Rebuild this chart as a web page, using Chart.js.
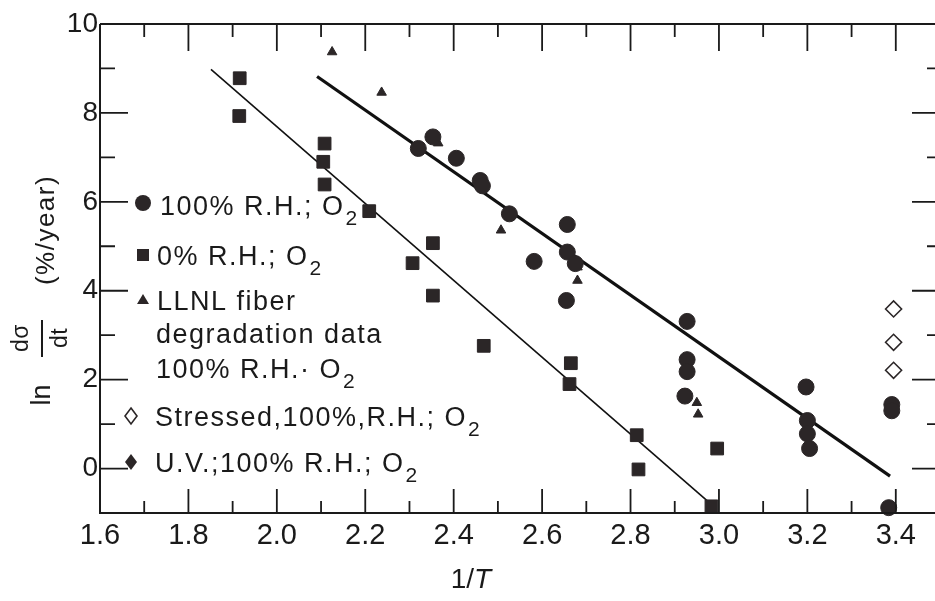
<!DOCTYPE html>
<html>
<head>
<meta charset="utf-8">
<script src="https://cdn.jsdelivr.net/npm/chart.js@4/dist/chart.umd.min.js"></script>
<style>
  html, body { margin: 0; padding: 0; background: #fff; overflow: hidden; }
  #wrap { width: 950px; height: 601px; }
</style>
</head>
<body>
<div id="wrap"><canvas id="chart" width="950" height="601"></canvas></div>
<script>
// 100% R.H.; O2
const wetX = [2.32, 2.353, 2.406, 2.46, 2.465, 2.526, 2.582, 2.657, 2.657, 2.675, 2.655,
              2.928, 2.928, 2.928, 2.923, 3.197, 3.20, 3.20, 3.205, 3.391, 3.391, 3.384];
const wetY = [7.20, 7.46, 6.98, 6.48, 6.36, 5.73, 4.66, 5.49, 4.87, 4.61, 3.78,
              3.31, 2.45, 2.18, 1.63, 1.835, 1.08, 0.78, 0.45, 1.44, 1.30, -0.88];
// 0% R.H.; O2
const dryX = [1.916, 1.915, 2.108, 2.105, 2.108, 2.209, 2.307, 2.353, 2.353, 2.468,
              2.665, 2.662, 2.814, 2.818, 2.996, 2.983];
const dryY = [8.78, 7.93, 7.31, 6.90, 6.39, 5.79, 4.62, 5.07, 3.89, 2.76,
              2.37, 1.90, 0.75, -0.02, 0.45, -0.85];
// LLNL fiber degradation data
const llnlX = [2.125, 2.237, 2.365, 2.507, 2.68, 2.68, 2.95, 2.953];
const llnlY = [9.37, 8.46, 7.32, 5.36, 4.53, 4.23, 1.48, 1.22];
// Stressed, 100% R.H.; O2
const stressX = [3.395, 3.395, 3.395];
const stressY = [3.59, 2.84, 2.21];
// U.V.; 100% R.H.; O2 (legend only)
const uvX = [];
const uvY = [];
// fitted lines
const wetFitX = [2.091, 3.387];
const wetFitY = [8.82, -0.17];
const dryFitX = [1.851, 2.975];
const dryFitY = [8.98, -0.74];

const xTicks = [1.6, 1.8, 2.0, 2.2, 2.4, 2.6, 2.8, 3.0, 3.2, 3.4];
const yTicks = [0, 2, 4, 6, 8, 10];

const legendRows = [
  { marker: 'circle', text: '100% R.H.; O', sub: '2' },
  { marker: 'rect', text: '0% R.H.; O', sub: '2' },
  { marker: 'triangle', text: 'LLNL fiber', sub: '' },
  { marker: '', text: 'degradation data', sub: '' },
  { marker: '', text: '100% R.H.\u00b7 O', sub: '2' },
  { marker: 'openDiamond', text: 'Stressed,100%,R.H.; O', sub: '2' },
  { marker: 'diamond', text: 'U.V.;100% R.H.; O', sub: '2' }
];

const ink = '#2b2627';
const font = '"Liberation Sans", Arial, sans-serif';

function pts(xs, ys) {
  return xs.map((x, i) => ({ x: x, y: ys[i] }));
}

const framePlugin = {
  id: 'frame',
  afterDraw(chart) {
    const ctx = chart.ctx;
    const a = chart.chartArea;
    const xs = chart.scales.x, ys = chart.scales.y;
    ctx.save();
    ctx.strokeStyle = '#1a1a1a';
    ctx.lineWidth = 2;
    ctx.beginPath();
    ctx.moveTo(a.left, a.top); ctx.lineTo(a.right, a.top);
    ctx.moveTo(a.left, a.top); ctx.lineTo(a.left, a.bottom);
    ctx.lineTo(a.right, a.bottom);
    ctx.lineTo(a.right, a.top);
    ctx.stroke();
    ctx.lineWidth = 1.8;
    ctx.beginPath();
    for (let i = 17; i <= 35; i++) {
      const px = xs.getPixelForValue(i / 10);
      const major = i % 2 === 0;
      ctx.moveTo(px, a.bottom); ctx.lineTo(px, a.bottom - (major ? 24 : 12));
      ctx.moveTo(px, a.top); ctx.lineTo(px, a.top + (major ? 27 : 13));
    }
    for (let v = 0; v <= 9; v++) {
      const py = ys.getPixelForValue(v);
      const major = v % 2 === 0;
      ctx.moveTo(a.left, py); ctx.lineTo(a.left + (major ? 28 : 15), py);
      ctx.moveTo(a.right, py); ctx.lineTo(a.right - (major ? 28 : 13), py);
    }
    ctx.stroke();

    // legend
    ctx.fillStyle = '#1a1a1a';
    const rowY = [215, 265, 310, 343, 378, 426, 472];
    const rowX = [160, 157, 157, 156, 156, 155, 155];
    legendRows.forEach((r, i) => {
      const by = rowY[i];
      ctx.font = '27px ' + font;
      ctx.letterSpacing = '1.5px';
      ctx.textAlign = 'left';
      ctx.textBaseline = 'alphabetic';
      ctx.fillText(r.text, rowX[i], by);
      const w = ctx.measureText(r.text).width;
      if (r.sub) {
        ctx.font = '21px ' + font;
        ctx.fillText(r.sub, rowX[i] + w + 1, by + 10);
      }
      ctx.letterSpacing = '0px';
      drawMarker(ctx, r.marker, r.marker === 'openDiamond' || r.marker === 'diamond' ? 131 : 143, by - 10);
    });

    // y title
    ctx.fillStyle = '#1a1a1a';
    rotText(ctx, 'ln', 50, 395, '27px ' + font, '0px');
    rotText(ctx, 'd\u03c3', 28, 338, '23px ' + font, '0.5px');
    rotText(ctx, 'dt', 67, 338, '23px ' + font, '0.5px');
    ctx.lineWidth = 2;
    ctx.beginPath();
    ctx.moveTo(42, 320); ctx.lineTo(42, 357);
    ctx.stroke();
    rotText(ctx, '(%/year)', 54, 230, '26px ' + font, '1.5px');

    // x title
    ctx.textBaseline = 'alphabetic';
    ctx.textAlign = 'left';
    ctx.font = '28px ' + font;
    const w1 = ctx.measureText('1/').width;
    ctx.font = 'italic 28px ' + font;
    const w2 = ctx.measureText('T').width;
    const x0 = 471 - (w1 + w2) / 2;
    ctx.font = '28px ' + font;
    ctx.fillText('1/', x0, 588);
    ctx.font = 'italic 28px ' + font;
    ctx.fillText('T', x0 + w1, 588);
    ctx.restore();
  }
};

function rotText(ctx, t, x, y, f, sp) {
  ctx.save();
  ctx.translate(x, y);
  ctx.rotate(-Math.PI / 2);
  ctx.font = f;
  ctx.letterSpacing = sp;
  ctx.textAlign = 'center';
  ctx.textBaseline = 'alphabetic';
  ctx.fillText(t, 0, 0);
  ctx.restore();
}

function drawMarker(ctx, m, x, y) {
  ctx.save();
  ctx.fillStyle = ink;
  ctx.strokeStyle = ink;
  ctx.lineWidth = 1.6;
  ctx.beginPath();
  if (m === 'circle') {
    ctx.arc(x, y - 2, 8, 0, Math.PI * 2);
    ctx.fill();
  } else if (m === 'rect') {
    ctx.rect(x - 6, y - 6, 12, 12);
    ctx.fill();
  } else if (m === 'triangle') {
    ctx.moveTo(x, y - 6); ctx.lineTo(x + 6, y + 4); ctx.lineTo(x - 6, y + 4);
    ctx.closePath();
    ctx.fill();
  } else if (m === 'openDiamond' || m === 'diamond') {
    ctx.moveTo(x, y - 8); ctx.lineTo(x + 6, y); ctx.lineTo(x, y + 8); ctx.lineTo(x - 6, y);
    ctx.closePath();
    if (m === 'diamond') ctx.fill();
    else { ctx.fillStyle = '#fff'; ctx.fill(); ctx.stroke(); }
  }
  ctx.restore();
}

const ctx = document.getElementById('chart').getContext('2d');
const chart = new Chart(ctx, {
  type: 'scatter',
  data: {
    datasets: [{
      label: '100% R.H.; O2',
      data: pts(wetX, wetY),
      pointStyle: 'circle',
      pointRadius: 8,
      backgroundColor: ink,
      borderColor: ink,
      clip: false
    }, {
      label: '0% R.H.; O2',
      data: pts(dryX, dryY),
      pointStyle: 'rect',
      pointRadius: 9,
      backgroundColor: ink,
      borderColor: ink,
      clip: false
    }, {
      label: 'LLNL fiber degradation data',
      data: pts(llnlX, llnlY),
      pointStyle: 'triangle',
      pointRadius: 5.5,
      backgroundColor: ink,
      borderColor: ink
    }, {
      label: 'Stressed,100%,R.H.; O2',
      data: pts(stressX, stressY),
      pointStyle: 'rectRot',
      pointRadius: 8,
      backgroundColor: '#fff',
      borderColor: ink,
      borderWidth: 1.6
    }, {
      label: 'U.V.;100% R.H.; O2',
      data: pts(uvX, uvY),
      pointStyle: 'rectRot',
      pointRadius: 8,
      backgroundColor: ink,
      borderColor: ink
    }, {
      label: 'fit 100%',
      data: pts(wetFitX, wetFitY),
      showLine: true,
      borderColor: '#111',
      borderWidth: 3.2,
      pointRadius: 0
    }, {
      label: 'fit 0%',
      data: pts(dryFitX, dryFitY),
      showLine: true,
      borderColor: '#111',
      borderWidth: 1.6,
      pointRadius: 0
    }]
  },
  options: {
    responsive: false,
    animation: false,
    layout: { padding: { left: 0, right: 5, top: 24, bottom: 0 } },
    plugins: {
      legend: { display: false },
      tooltip: { enabled: false }
    },
    scales: {
      x: {
        type: 'linear',
        min: 1.6,
        max: 3.5,
        grid: { display: false, drawTicks: false },
        border: { display: false },
        afterBuildTicks: (s) => { s.ticks = xTicks.map(v => ({ value: v })); },
        afterFit: (s) => { s.height = 88; },
        ticks: {
          color: '#1a1a1a',
          font: { family: font, size: 29 },
          padding: 6,
          maxRotation: 0,
          autoSkip: false,
          callback: (v) => Number(v).toFixed(1)
        }
      },
      y: {
        min: -1,
        max: 10,
        grid: { display: false, drawTicks: false },
        border: { display: false },
        afterBuildTicks: (s) => { s.ticks = yTicks.map(v => ({ value: v })); },
        afterFit: (s) => { s.width = 100; },
        ticks: {
          color: '#1a1a1a',
          font: { family: font, size: 28 },
          padding: 2,
          autoSkip: false
        }
      }
    }
  },
  plugins: [framePlugin]
});
</script>
</body>
</html>
